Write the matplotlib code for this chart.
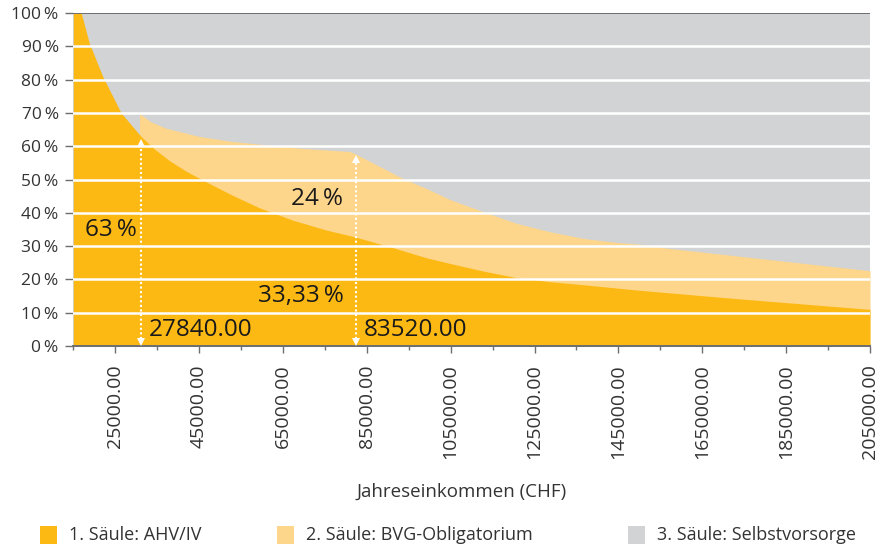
import matplotlib
matplotlib.use('Agg')
import matplotlib.pyplot as plt
from matplotlib.patches import Rectangle

plt.rcParams['font.family'] = ['Open Sans', 'DejaVu Sans']

# Einkommen (CHF) -> Anteil 1. Säule (%)
ahv_income = [15000, 16900, 18800, 22000, 26400, 31100, 34500, 37900, 41900,
              45900, 52900, 59400, 67300, 75400, 82100, 91300, 99200, 104800,
              112800, 120800, 128700, 136700, 148600, 172500, 205000]
ahv_share = [100, 100, 91, 81, 70, 63, 59.0, 55.7, 52.5,
             49.8, 45.3, 41.5, 37.8, 34.8, 32.8, 29.5, 26.5, 24.8,
             22.5, 20.5, 19.3, 18.4, 16.9, 14.3, 11.0]

# Einkommen (CHF) -> 1. + 2. Säule kumuliert (%)
bvg_income = [30800, 33500, 37100, 45100, 53000, 61000, 69000, 80900, 82100,
              87300, 93600, 99200, 104800, 112800, 120800, 128700, 136700,
              144600, 152600, 155000, 205000]
bvg_top = [69.8, 67.3, 65.4, 62.9, 61.4, 60.4, 59.4, 58.4, 57.8,
           54.4, 50.3, 47.3, 44.0, 40.3, 36.8, 34.3, 32.3,
           31.1, 30.3, 29.6, 22.6]

x_min, x_max = 15000, 205000
major_ticks = list(range(25000, 205001, 20000))
minor_ticks = list(range(15000, 205001, 20000))
y_ticks = list(range(0, 101, 10))

# Markierungen (Pfeile) und Beschriftungen
arrow_x = [31100, 82350]
arrow_top = [61.9, 56.9]
arrow_labels = ['27840.00', '83520.00']

legend_labels = ['1. Säule: AHV/IV', '2. Säule: BVG-Obligatorium', '3. Säule: Selbstvorsorge']
c_ahv = '#FDB913'
c_bvg = '#FED68B'
c_rest = '#D1D3D4'
colors = [c_ahv, c_bvg, c_rest]
txt = '#1a1a1a'

fig = plt.figure(figsize=(8.81, 5.47), dpi=100)
ax = fig.add_axes([73.3 / 881, 1 - 346 / 547, (870 - 73.3) / 881, (346 - 13) / 547])

ax.set_facecolor(c_rest)
ax.fill_between(bvg_income, 0, bvg_top, color=c_bvg, lw=0, zorder=1)
ax.fill_between(ahv_income, 0, ahv_share, color=c_ahv, lw=0, zorder=1.1)

for v in y_ticks[1:-1]:
    ax.axhline(v, color='white', lw=1.8, zorder=2)
ax.axhline(100, color='#6d6e71', lw=1.4, zorder=2)

ax.set_xlim(x_min, x_max)
ax.set_ylim(0, 100)

for s in ['left', 'right', 'top']:
    ax.spines[s].set_visible(False)
ax.spines['bottom'].set_color('#6d6e71')
ax.spines['bottom'].set_linewidth(1.4)

ax.set_yticks(y_ticks)
ax.set_yticklabels([f'{v}\u2009%' for v in y_ticks])
ax.tick_params(axis='y', length=5.5, width=1.0, color='#6d6e71', pad=5,
               labelsize=12.5, labelcolor='#333333')

ax.set_xticks(major_ticks)
ax.set_xticks(minor_ticks, minor=True)
ax.set_xticklabels([f'{v}.00' for v in major_ticks], rotation=90)
ax.tick_params(axis='x', which='major', length=5, width=1.0, color='#6d6e71',
               pad=8, labelsize=14, labelcolor='#333333')
ax.tick_params(axis='x', which='minor', length=3, width=1.0, color='#6d6e71')

# Pfeile
for x, top, lab in zip(arrow_x, arrow_top, arrow_labels):
    ax.plot([x, x], [2.0, top - 1.5], color='white', lw=1.5,
            ls=(0, (1, 1.2)), zorder=3)
    ax.plot(x, top - 0.8, marker='^', color='white', ms=5.5, mew=0, zorder=3)
    ax.plot(x, 1.2, marker='v', color='white', ms=5.5, mew=0, zorder=3)
    ax.text(x + 2000, 4.8, lab, fontsize=17.5, color=txt, ha='left',
            va='center', zorder=4)

ax.text(24000, 34.8, '63\u2009%', fontsize=17.5, color=txt, ha='center', va='center', zorder=4)
ax.text(73000, 44.1, '24\u2009%', fontsize=17.5, color=txt, ha='center', va='center', zorder=4)
ax.text(69200, 15.0, '33,33\u2009%', fontsize=17.5, color=txt, ha='center', va='center', zorder=4)

fig.text(462 / 881, 1 - 492 / 547, 'Jahreseinkommen (CHF)', fontsize=13.5,
         color='#333333', ha='center', va='center')

# Legende
leg_x = [40, 277, 628]
for lx, col, lab in zip(leg_x, colors, legend_labels):
    fig.add_artist(Rectangle((lx / 881, 1 - 544 / 547), 17 / 881, 18 / 547,
                             transform=fig.transFigure, color=col, lw=0))
    fig.text((lx + 29) / 881, 1 - 535 / 547, lab, fontsize=13,
             color='#333333', ha='left', va='center')

fig.savefig('out.png', dpi=100)
